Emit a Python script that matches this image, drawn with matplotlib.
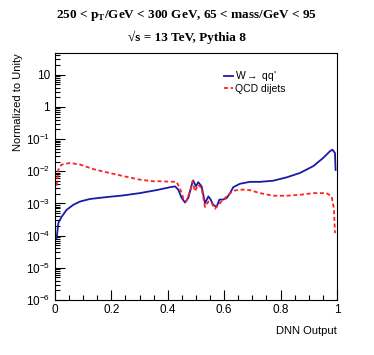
import matplotlib
matplotlib.use("Agg")
import matplotlib.pyplot as plt
from matplotlib.ticker import FixedLocator, FixedFormatter, MultipleLocator, LogLocator, NullFormatter

plt.rcParams['font.family'] = ['Liberation Sans', 'DejaVu Sans']
plt.rcParams['mathtext.fontset'] = 'custom'
plt.rcParams['mathtext.rm'] = 'Liberation Sans'
plt.rcParams['mathtext.it'] = 'Liberation Sans'

# W -> qq' (signal)
w_x = [0.006, 0.012, 0.024, 0.041, 0.065, 0.089, 0.124, 0.183, 0.242, 0.301, 0.36,
       0.408, 0.426, 0.437, 0.449, 0.461, 0.473, 0.485, 0.490, 0.500, 0.508, 0.520,
       0.532, 0.544, 0.552, 0.561, 0.573, 0.583, 0.597, 0.609, 0.621, 0.632, 0.656,
       0.691, 0.727, 0.774, 0.822, 0.869, 0.916, 0.951, 0.975, 0.984, 0.993, 0.995]
w_y = [8.5e-5, 2.5e-4, 3.9e-4, 6.3e-4, 9.1e-4, 1.15e-3, 1.38e-3, 1.58e-3, 1.78e-3,
       2.1e-3, 2.6e-3, 3.2e-3, 3.4e-3, 2.7e-3, 1.5e-3, 1.07e-3, 1.5e-3, 3.8e-3,
       5.2e-3, 3.4e-3, 4.6e-3, 3.4e-3, 1.02e-3, 1.66e-3, 1.32e-3, 9.1e-4, 7.8e-4,
       1.32e-3, 1.32e-3, 1.48e-3, 2.1e-3, 3.2e-3, 4.1e-3, 4.7e-3, 4.7e-3, 5.1e-3,
       6.5e-3, 8.9e-3, 1.45e-2, 2.6e-2, 4.2e-2, 4.7e-2, 3.7e-2, 1.1e-2]

# QCD dijets (background)
q_x = [0.006, 0.012, 0.018, 0.024, 0.053, 0.089, 0.136, 0.183, 0.242, 0.301, 0.349,
       0.372, 0.431, 0.443, 0.455, 0.465, 0.479, 0.488, 0.496, 0.508, 0.520, 0.532,
       0.544, 0.556, 0.567, 0.579, 0.597, 0.615, 0.632, 0.662, 0.691, 0.727, 0.774,
       0.822, 0.869, 0.916, 0.963, 0.981, 0.989, 0.993]
q_y = [3.6e-3, 1.12e-2, 1.41e-2, 1.62e-2, 1.82e-2, 1.62e-2, 1.17e-2, 9.3e-3, 7.1e-3,
       5.5e-3, 4.9e-3, 4.9e-3, 4.7e-3, 3.0e-3, 1.48e-3, 1.15e-3, 2.4e-3, 4.9e-3,
       2.4e-3, 3.8e-3, 3.0e-3, 7.8e-4, 1.15e-3, 1.02e-3, 6.8e-4, 9.1e-4, 1.32e-3,
       1.86e-3, 2.5e-3, 2.7e-3, 2.6e-3, 2.1e-3, 1.74e-3, 1.74e-3, 1.86e-3, 2.1e-3,
       2.1e-3, 1.66e-3, 7.2e-4, 1.2e-4]

y_ticks = [1e-6, 1e-5, 1e-4, 1e-3, 1e-2, 1e-1, 1, 10]
y_labels = ['$10^{-6}$', '$10^{-5}$', '$10^{-4}$', '$10^{-3}$', '$10^{-2}$', '$10^{-1}$', '1', '10']

fig = plt.figure(figsize=(3.74, 3.55), dpi=100)
ax = fig.add_axes([0.147, 0.155, 0.754, 0.696])

ax.plot(w_x, w_y, color='#1a1aa8', lw=1.3, label="W$\\rightarrow$ qq'")
ax.plot(q_x, q_y, color='#ff2020', lw=1.3, ls=(0, (2.2, 1.5)), label='QCD dijets')

ax.set_yscale('log')
ax.set_xlim(0, 1)
ax.set_ylim(1e-6, 48)

ax.yaxis.set_major_locator(FixedLocator(y_ticks))
ax.yaxis.set_major_formatter(FixedFormatter(y_labels))
ax.yaxis.set_minor_locator(LogLocator(base=10, subs=range(2, 10), numticks=20))
ax.yaxis.set_minor_formatter(NullFormatter())
ax.xaxis.set_major_locator(MultipleLocator(0.2))
ax.xaxis.set_minor_locator(MultipleLocator(0.05))
ax.set_xticks([0, 0.2, 0.4, 0.6, 0.8, 1.0], ['0', '0.2', '0.4', '0.6', '0.8', '1'])

ax.tick_params(which='both', direction='in', top=False, right=False, labelsize=8.5, width=0.8)
ax.tick_params(which='major', length=7)
ax.tick_params(which='minor', length=3.5)
ax.tick_params(axis='x', pad=3)
for s in ax.spines.values():
    s.set_linewidth(0.8)

ax.set_xlabel('DNN Output', fontsize=8, loc='right', labelpad=7)
ax.set_ylabel('Normalized to Unity', fontsize=8, loc='top', labelpad=2)

ax.legend(loc='upper left', bbox_to_anchor=(0.58, 0.955), frameon=False, fontsize=7.5,
          handlelength=0.9, handletextpad=0.2, labelspacing=0.05, borderpad=0)

fig.text(0.5, 0.955, '250 < p$_{\\mathregular{T}}$/GeV < 300 GeV, 65 < mass/GeV < 95',
         ha='center', va='center', fontsize=9.5, fontweight='bold', family='Liberation Serif')
fig.text(0.5, 0.895, '\u221as = 13 TeV, Pythia 8',
         ha='center', va='center', fontsize=9.5, fontweight='bold', family='Liberation Serif')

fig.savefig('out.png', dpi=100)
